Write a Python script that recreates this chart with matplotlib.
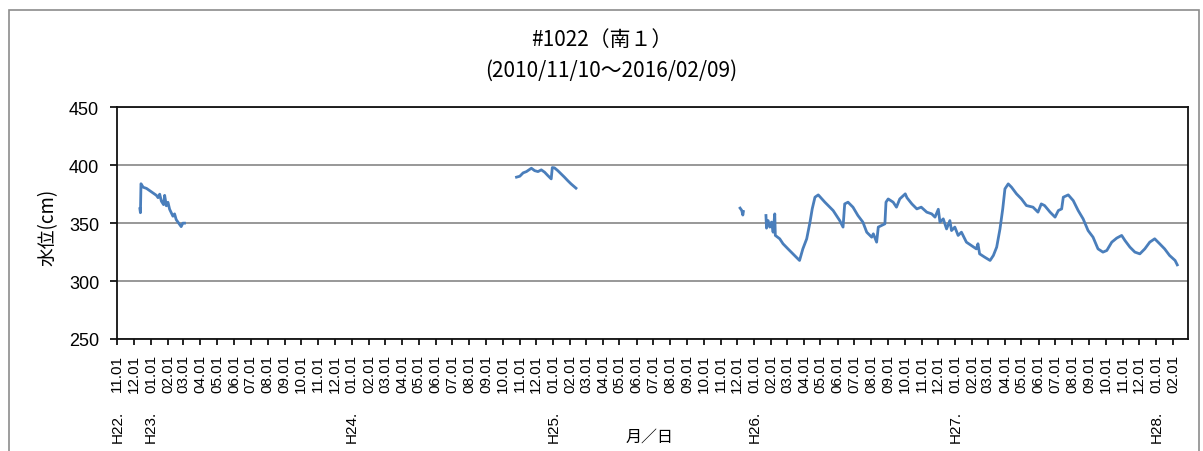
import numpy as np
import pandas as pd
import matplotlib
matplotlib.use('Agg')
import matplotlib.pyplot as plt
from matplotlib.patches import Rectangle

plt.rcParams['font.family'] = ['Noto Sans CJK JP', 'DejaVu Sans']

title_text = '#1022（南１）'
period_text = '(2010/11/10～2016/02/09)'
ylabel_text = '水位(cm)'
xlabel_text = '月／日'

# water level readings, one list per recorded stretch (gaps between them)
seg1_dates = ['2010-12-12', '2010-12-13', '2010-12-14', '2010-12-18', '2010-12-24',
              '2011-01-02', '2011-01-11', '2011-01-14', '2011-01-17', '2011-01-20',
              '2011-01-24', '2011-01-26', '2011-01-29', '2011-02-01', '2011-02-04',
              '2011-02-07', '2011-02-10', '2011-02-13', '2011-02-16', '2011-02-22',
              '2011-02-25', '2011-02-28', '2011-03-03']
seg1_level = [362.5, 359.0, 384.0, 381.0, 380.0,
              377.0, 374.0, 372.0, 375.0, 369.0,
              366.0, 374.0, 365.0, 368.0, 362.0,
              359.0, 356.0, 358.0, 353.0, 349.0,
              347.0, 350.0, 350.0]

seg2_dates = ['2012-10-26', '2012-11-01', '2012-11-07', '2012-11-13', '2012-11-22',
              '2012-11-28', '2012-12-04', '2012-12-10', '2012-12-16', '2012-12-22',
              '2012-12-28', '2012-12-30', '2013-01-03', '2013-01-09', '2013-01-15',
              '2013-01-21', '2013-01-27', '2013-02-02', '2013-02-11']
seg2_level = [389.7, 390.5, 393.4, 394.5, 397.4,
              395.3, 394.5, 396.0, 394.0, 391.0,
              388.2, 398.0, 397.7, 395.3, 392.5,
              389.7, 386.7, 383.9, 380.2]

seg3_dates = ['2013-12-06', '2013-12-09', '2013-12-11', '2013-12-12']
seg3_level = [363.0, 361.0, 357.0, 360.0]

seg4_dates = ['2014-01-22', '2014-01-23', '2014-01-26', '2014-01-29', '2014-02-01',
              '2014-02-04', '2014-02-07', '2014-02-08', '2014-02-16', '2014-02-22',
              '2014-03-03', '2014-03-12', '2014-03-21', '2014-03-24', '2014-03-30',
              '2014-04-06', '2014-04-12', '2014-04-16', '2014-04-21', '2014-04-27',
              '2014-05-09', '2014-05-24', '2014-06-05', '2014-06-11', '2014-06-14',
              '2014-06-20', '2014-06-29', '2014-07-08', '2014-07-17', '2014-07-24',
              '2014-08-02', '2014-08-05', '2014-08-11', '2014-08-14', '2014-08-20',
              '2014-08-26', '2014-08-28', '2014-09-01', '2014-09-10', '2014-09-16',
              '2014-09-22', '2014-10-02', '2014-10-05', '2014-10-14', '2014-10-23',
              '2014-10-31', '2014-11-10', '2014-11-19', '2014-11-25', '2014-12-01',
              '2014-12-04', '2014-12-10', '2014-12-16', '2014-12-22', '2014-12-25',
              '2014-12-31', '2015-01-06', '2015-01-12', '2015-01-21', '2015-01-30',
              '2015-02-08', '2015-02-11', '2015-02-14', '2015-02-23', '2015-03-05',
              '2015-03-11', '2015-03-17', '2015-03-23', '2015-03-28', '2015-04-01',
              '2015-04-07', '2015-04-13', '2015-04-22', '2015-05-01', '2015-05-10',
              '2015-05-22', '2015-05-31', '2015-06-06', '2015-06-12', '2015-06-22',
              '2015-07-01', '2015-07-07', '2015-07-13', '2015-07-16', '2015-07-25',
              '2015-08-03', '2015-08-12', '2015-08-21', '2015-08-30', '2015-09-08',
              '2015-09-17', '2015-09-26', '2015-10-03', '2015-10-12', '2015-10-21',
              '2015-10-30', '2015-11-05', '2015-11-14', '2015-11-23', '2015-12-02',
              '2015-12-11', '2015-12-20', '2015-12-29', '2016-01-07', '2016-01-16',
              '2016-01-25', '2016-02-04', '2016-02-08']
seg4_level = [356.6, 345.7, 352.2, 346.6, 350.9,
              342.2, 358.0, 339.4, 336.5, 332.2,
              327.8, 323.5, 319.2, 317.8, 327.8,
              336.5, 350.9, 362.3, 372.4, 374.4,
              368.1, 360.9, 352.2, 346.6, 366.6,
              368.1, 363.8, 356.6, 350.9, 342.2,
              337.9, 340.8, 333.6, 346.6, 348.0,
              349.4, 368.1, 370.9, 368.1, 363.8,
              370.9, 375.3, 372.0, 366.6, 362.3,
              363.8, 359.5, 358.0, 355.2, 362.0,
              350.9, 353.7, 345.0, 352.2, 343.6,
              346.6, 339.4, 342.2, 333.6, 330.7,
              327.8, 332.2, 323.5, 320.7, 317.8,
              322.1, 329.3, 345.0, 362.3, 379.6,
              383.9, 381.0, 375.3, 370.9, 365.2,
              363.8, 359.5, 366.6, 365.2, 359.5,
              355.2, 360.9, 362.3, 372.4, 374.4,
              369.5, 360.9, 353.7, 343.6, 337.9,
              327.8, 325.0, 326.4, 333.6, 337.1,
              339.4, 335.0, 329.3, 325.0, 323.5,
              327.8, 333.6, 336.5, 332.2, 327.8,
              322.1, 317.8, 314.0]

segments = [(seg1_dates, seg1_level), (seg2_dates, seg2_level),
            (seg3_dates, seg3_level), (seg4_dates, seg4_level)]

y_ticks = [250, 300, 350, 400, 450]
month_ticks = pd.date_range('2010-11-01', '2016-02-01', freq='MS')

fig = plt.figure(figsize=(12.03, 4.52), dpi=100)
ax = fig.add_axes([117.3 / 1203, 1 - 340 / 452, (1188.3 - 117.3) / 1203, (340 - 108.3) / 452])

for d, v in segments:
    ax.plot(pd.to_datetime(d), v, color='#4a7ebb', lw=2.0, solid_joinstyle='round')

ax.set_ylim(250, 450)
ax.set_yticks(y_ticks)
ax.set_xlim(pd.Timestamp('2010-11-01'), pd.Timestamp('2016-02-28'))
ax.set_xticks(month_ticks)
ax.set_xticklabels([t.strftime('%m.%d') for t in month_ticks], rotation=90,
                   family='Liberation Sans', fontsize=11)
for lab in ax.get_yticklabels():
    lab.set_family('Liberation Sans')
    lab.set_fontsize(13)

ax.grid(axis='y', color='#868686', lw=1.2)
ax.set_axisbelow(True)
for s in ax.spines.values():
    s.set_linewidth(1.3)
    s.set_color('#111111')
ax.tick_params(axis='y', length=5, width=1.2, pad=8)
ax.tick_params(axis='x', length=4, width=1.2, pad=7)

# era year under the first tick and every January
for i, t in enumerate(month_ticks):
    if i == 0 or t.month == 1:
        ax.annotate('H%d.' % (t.year - 1988), xy=(t, 0), xycoords=('data', 'axes fraction'),
                    xytext=(0, -51), textcoords='offset points', rotation=90,
                    ha='center', va='top', fontsize=11, family='Liberation Sans')

fig.text(602 / 1203, 1 - 40 / 452, title_text, ha='center', va='center', fontsize=15)
fig.text(611 / 1203, 1 - 71 / 452, period_text, ha='center', va='center', fontsize=15)
fig.text(48 / 1203, 1 - 227 / 452, ylabel_text, rotation=90, ha='center', va='center', fontsize=13.5)
fig.text(650 / 1203, 1 - 437 / 452, xlabel_text, ha='center', va='center', fontsize=11.5)

fig.patches.append(Rectangle((9 / 1203, -0.1), 1190 / 1203, 1.1 - 11 / 452,
                             transform=fig.transFigure, fill=False,
                             edgecolor='#8c8c8c', lw=1.2))

fig.savefig('out.png', dpi=100)
